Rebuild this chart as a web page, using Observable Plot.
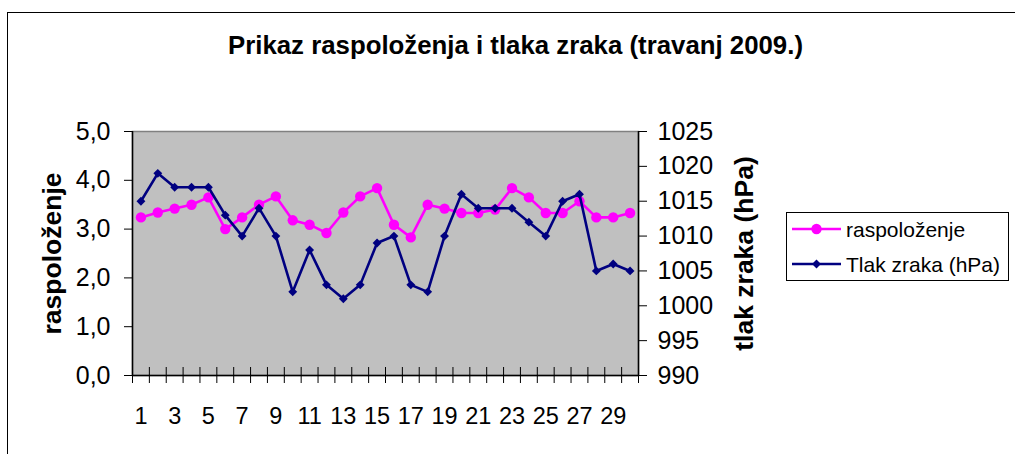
<!DOCTYPE html>
<html><head><meta charset="utf-8">
<script src="https://cdn.jsdelivr.net/npm/d3@7"></script>
<script src="https://cdn.jsdelivr.net/npm/@observablehq/plot@0.6"></script>
<style>
html,body{margin:0;padding:0;background:#fff;overflow:hidden;}
#wrap{position:relative;width:1015px;height:454px;overflow:hidden;font-family:"Liberation Sans",Arial,sans-serif;}
#border{position:absolute;left:7px;top:12px;width:1100px;height:600px;border-left:1.5px solid #000;border-top:1.5px solid #000;}
#title{position:absolute;left:0;width:1031px;top:30px;text-align:center;font-weight:bold;font-size:25.8px;line-height:30px;color:#000;}
.layer{position:absolute;left:0;top:0;}
</style></head><body>
<div id="wrap"><div id="border"></div><div id="title"></div><div id="chartA" class="layer"></div><div id="chartB" class="layer"></div><div id="legend" class="layer"></div></div>
<script>
const titleText = "Prikaz raspoloženja i tlaka zraka (travanj 2009.)";
const days = [1,2,3,4,5,6,7,8,9,10,11,12,13,14,15,16,17,18,19,20,21,22,23,24,25,26,27,28,29,30];
const mood = [3.24,3.34,3.42,3.50,3.65,3.00,3.24,3.50,3.67,3.18,3.09,2.92,3.34,3.67,3.84,3.09,2.83,3.50,3.42,3.33,3.33,3.40,3.84,3.65,3.33,3.33,3.57,3.24,3.24,3.33];
const pressure = [1015,1019,1017,1017,1017,1013,1010,1014,1010,1002,1008,1003,1001,1003,1009,1010,1003,1002,1010,1016,1014,1014,1014,1012,1010,1015,1016,1005,1006,1005];
const xTickLabels = [1,3,5,7,9,11,13,15,17,19,21,23,25,27,29];
const moodTicks = [0,1,2,3,4,5];
const pressureTicks = [990,995,1000,1005,1010,1015,1020,1025];
const moodDomain = [0,5];
const pressureDomain = [990,1025];
const seriesNames = ["raspoloženje","Tlak zraka (hPa)"];
const axisTitles = ["raspoloženje","tlak zraka (hPa)"];
const colors = ["#ff00ff","#000080"];

document.getElementById("title").textContent = titleText;

const rows = days.map((d,i)=>({day:d, mood:mood[i], pressure:pressure[i]}));
const xDomain = [days[0]-0.5, days[days.length-1]+0.5];
const boundaries = days.map(d=>d-0.5).concat([days[days.length-1]+0.5]);
const FONT = '"Liberation Sans", Arial, sans-serif';
const common = {
  width:1015, height:454, marginLeft:132, marginRight:377, marginTop:131, marginBottom:79,
  style:{fontFamily:FONT, fontSize:"24px", background:"transparent", color:"#000", overflow:"visible"}
};

const chartA = Plot.plot({
  ...common,
  x:{type:"linear", domain:xDomain},
  y:{domain:moodDomain},
  marks:[
    Plot.frame({fill:"#c0c0c0", stroke:"#808080", strokeWidth:1.5}),
    Plot.ruleY([moodDomain[0]], {stroke:"#000", strokeWidth:1.5}),
    Plot.ruleX([xDomain[0]], {stroke:"#000", strokeWidth:1.5}),
    Plot.ruleX(boundaries, {x:d=>d, y1:moodDomain[0], y2:moodDomain[0], insetTop:-8, insetBottom:-8, stroke:"#000", strokeWidth:1}),
    Plot.axisX({ticks:xTickLabels, tickSize:0, tickPadding:32, fontSize:23.5, tickFormat:d=>String(d), label:null}),
    Plot.axisY({ticks:moodTicks, tickSize:8, tickPadding:14, fontSize:25, tickFormat:d=>d.toFixed(1).replace(".",","), label:null}),
    Plot.text([axisTitles[0]], {text:d=>d, frameAnchor:"left", textAnchor:"middle", dx:-80, rotate:-90, fontWeight:"bold", fontSize:26.5}),
    Plot.line(rows, {x:"day", y:"mood", stroke:colors[0], strokeWidth:2.6}),
    Plot.dot(rows, {x:"day", y:"mood", r:5.2, fill:colors[0], stroke:"none"})
  ]
});
document.getElementById("chartA").appendChild(chartA);

const chartB = Plot.plot({
  ...common,
  x:{type:"linear", domain:xDomain, axis:null},
  y:{domain:pressureDomain, axis:null},
  marks:[
    Plot.ruleX([xDomain[1]], {stroke:"#000", strokeWidth:1.5}),
    Plot.axisY({anchor:"right", ticks:pressureTicks, tickSize:8, tickPadding:11, fontSize:25, tickFormat:d=>String(d), label:null}),
    Plot.text([axisTitles[1]], {text:d=>d, frameAnchor:"right", textAnchor:"middle", dx:106, rotate:-90, fontWeight:"bold", fontSize:26.5}),
    Plot.line(rows, {x:"day", y:"pressure", stroke:colors[1], strokeWidth:2.6}),
    Plot.dot(rows, {x:"day", y:"pressure", r:4, symbol:"diamond2", fill:colors[1], stroke:"none"})
  ]
});
document.getElementById("chartB").appendChild(chartB);

// legend
const lg = d3.select("#legend").append("svg")
  .attr("width",224).attr("height",70)
  .style("position","absolute").style("left","786px").style("top","212px");
lg.append("rect").attr("x",0.5).attr("y",0.5).attr("width",222).attr("height",68).attr("fill","#fff").attr("stroke","#000");
seriesNames.forEach((name,i)=>{
  const cy = 17 + i*35;
  lg.append("line").attr("x1",6).attr("x2",55).attr("y1",cy).attr("y2",cy).attr("stroke",colors[i]).attr("stroke-width",2.5);
  if(i===0) lg.append("circle").attr("cx",30.5).attr("cy",cy).attr("r",5.2).attr("fill",colors[i]);
  else lg.append("path").attr("d",d3.symbol(d3.symbolDiamond2, 16*Math.PI)()).attr("transform",`translate(30.5,${cy})`).attr("fill",colors[i]);
  lg.append("text").attr("x",60).attr("y",cy+7.5).attr("font-family",FONT).attr("font-size",21).attr("fill","#000").text(name);
});
</script>
</body></html>
